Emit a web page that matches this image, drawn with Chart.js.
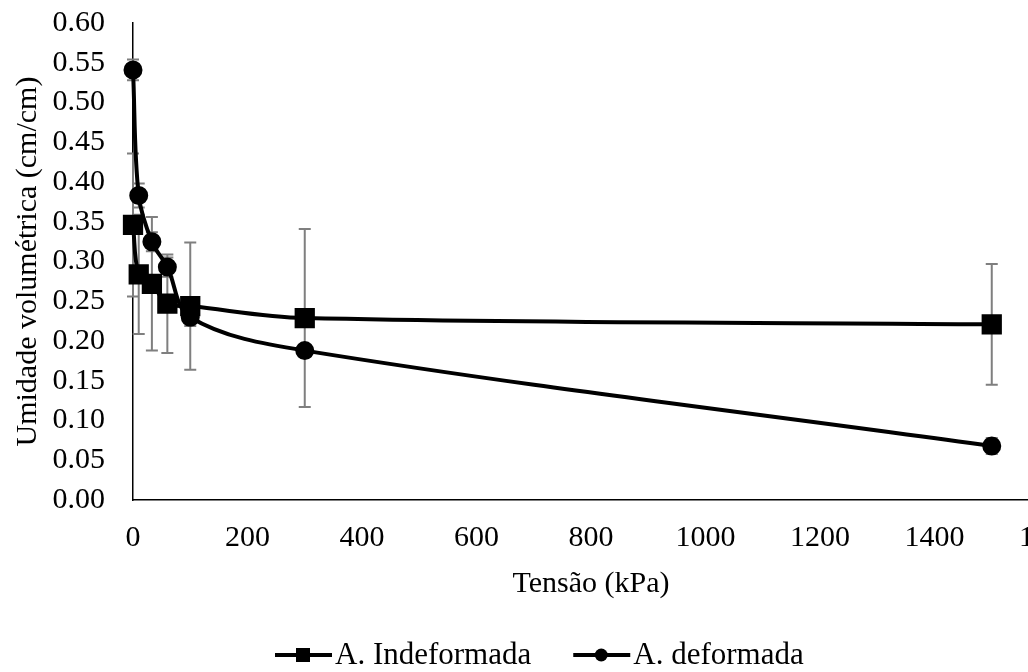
<!DOCTYPE html>
<html>
<head>
<meta charset="utf-8">
<script src="https://cdn.jsdelivr.net/npm/chart.js@4"></script>
<style>
  html, body { margin: 0; padding: 0; background: #fff; overflow: hidden; }
  #wrap { width: 1102px; height: 695px; margin-top: -23px; }
</style>
</head>
<body>
<div id="wrap"><canvas id="chart1"></canvas></div>
<script>
// tensão aplicada (kPa)
const tensao = [0, 10, 33, 60, 100, 300, 1500];

// umidade volumétrica (cm/cm) e desvio
const indeformada = [0.346, 0.284, 0.272, 0.247, 0.244, 0.229, 0.221];
const indeformadaErro = [0.09, 0.075, 0.084, 0.062, 0.08, 0.112, 0.076];
const deformada = [0.541, 0.383, 0.325, 0.293, 0.230, 0.188, 0.068];
const deformadaErro = [0.013, 0.015, 0.012, 0.012, 0.011, 0.006, 0.01];

const serieNomes = ["A. Indeformada", "A. deformada"];
const erros = [indeformadaErro, deformadaErro];

const fonte = "'Liberation Serif', 'Times New Roman', serif";

function pontos(ys) {
  return tensao.map((t, i) => ({ x: t, y: ys[i] }));
}

// barras de desvio em cinza, por baixo das linhas
const errorBars = {
  id: "errorBars",
  beforeDatasetsDraw(chart) {
    const ctx = chart.ctx;
    const xs = chart.scales.x;
    const ys = chart.scales.y;
    ctx.save();
    ctx.strokeStyle = "#7f7f7f";
    ctx.lineWidth = 2;
    chart.data.datasets.forEach((ds, d) => {
      ds.data.forEach((p, i) => {
        const e = erros[d][i];
        const x = xs.getPixelForValue(p.x);
        const y1 = ys.getPixelForValue(p.y + e);
        const y2 = ys.getPixelForValue(p.y - e);
        ctx.beginPath();
        ctx.moveTo(x, y1);
        ctx.lineTo(x, y2);
        ctx.moveTo(x - 6, y1);
        ctx.lineTo(x + 6, y1);
        ctx.moveTo(x - 6, y2);
        ctx.lineTo(x + 6, y2);
        ctx.stroke();
      });
    });
    ctx.restore();
  },
};

// legenda: linha com marcador seguida do nome da série
const legendaLinha = {
  id: "legendaLinha",
  afterDraw(chart) {
    const ctx = chart.ctx;
    const y = chart.height - 17;
    let x = 275;
    ctx.save();
    ctx.font = "31px " + fonte;
    ctx.textBaseline = "middle";
    ctx.fillStyle = "#000";
    ctx.strokeStyle = "#000";
    ctx.lineWidth = 4;
    chart.data.datasets.forEach((ds) => {
      ctx.beginPath();
      ctx.moveTo(x, y);
      ctx.lineTo(x + 57, y);
      ctx.stroke();
      const cx = x + 28;
      if (ds.pointStyle === "rect") {
        ctx.fillRect(cx - 7, y - 7, 14, 14);
      } else {
        ctx.beginPath();
        ctx.arc(cx, y, 6.5, 0, Math.PI * 2);
        ctx.fill();
      }
      ctx.fillText(ds.label, x + 60, y + 1);
      x += 60 + ctx.measureText(ds.label).width + 42;
    });
    ctx.restore();
  },
};

const ctx1 = document.getElementById("chart1").getContext("2d");

const chart1 = new Chart(ctx1, {
  type: "line",
  data: {
    datasets: [
      {
        label: serieNomes[0],
        data: pontos(indeformada),
        borderColor: "#000",
        backgroundColor: "#000",
        borderWidth: 4,
        pointStyle: "rect",
        pointRadius: 11.5,
        pointHoverRadius: 11.5,
        tension: 0.35,
        clip: false,
      },
      {
        label: serieNomes[1],
        data: pontos(deformada),
        borderColor: "#000",
        backgroundColor: "#000",
        borderWidth: 4,
        pointStyle: "circle",
        pointRadius: 7.5,
        pointHoverRadius: 7.5,
        tension: 0.35,
        clip: false,
      },
    ],
  },
  options: {
    responsive: true,
    maintainAspectRatio: false,
    animation: false,
    events: [],
    layout: { padding: { top: 0, left: 6, right: 0, bottom: 80 } },
    scales: {
      x: {
        type: "linear",
        min: 0,
        max: 1600,
        ticks: {
          stepSize: 200,
          autoSkip: false,
          color: "#000",
          font: { family: fonte, size: 30, lineHeight: 1 },
          padding: 23,
          maxRotation: 0,
          callback: (v) => String(v),
        },
        grid: { display: false, drawTicks: false },
        border: { display: true, color: "#000", width: 1.5 },
        title: { display: true, text: "Tensão (kPa)", color: "#000", font: { family: fonte, size: 30, lineHeight: 0.53 }, padding: 0 },
      },
      y: {
        min: 0,
        max: 0.6,
        ticks: {
          stepSize: 0.05,
          autoSkip: false,
          color: "#000",
          font: { family: fonte, size: 30 },
          padding: 28,
          callback: (v) => v.toFixed(2),
        },
        grid: { display: false, drawTicks: false },
        border: { display: true, color: "#000", width: 1.5 },
        title: { display: true, text: "Umidade volumétrica (cm/cm)", color: "#000", font: { family: fonte, size: 30 }, padding: 4 },
        afterFit: (scale) => {
          scale.width = 127;
        },
      },
    },
    plugins: {
      tooltip: { enabled: false },
      legend: { display: false },
    },
  },
  plugins: [errorBars, legendaLinha],
});
</script>
</body>
</html>
